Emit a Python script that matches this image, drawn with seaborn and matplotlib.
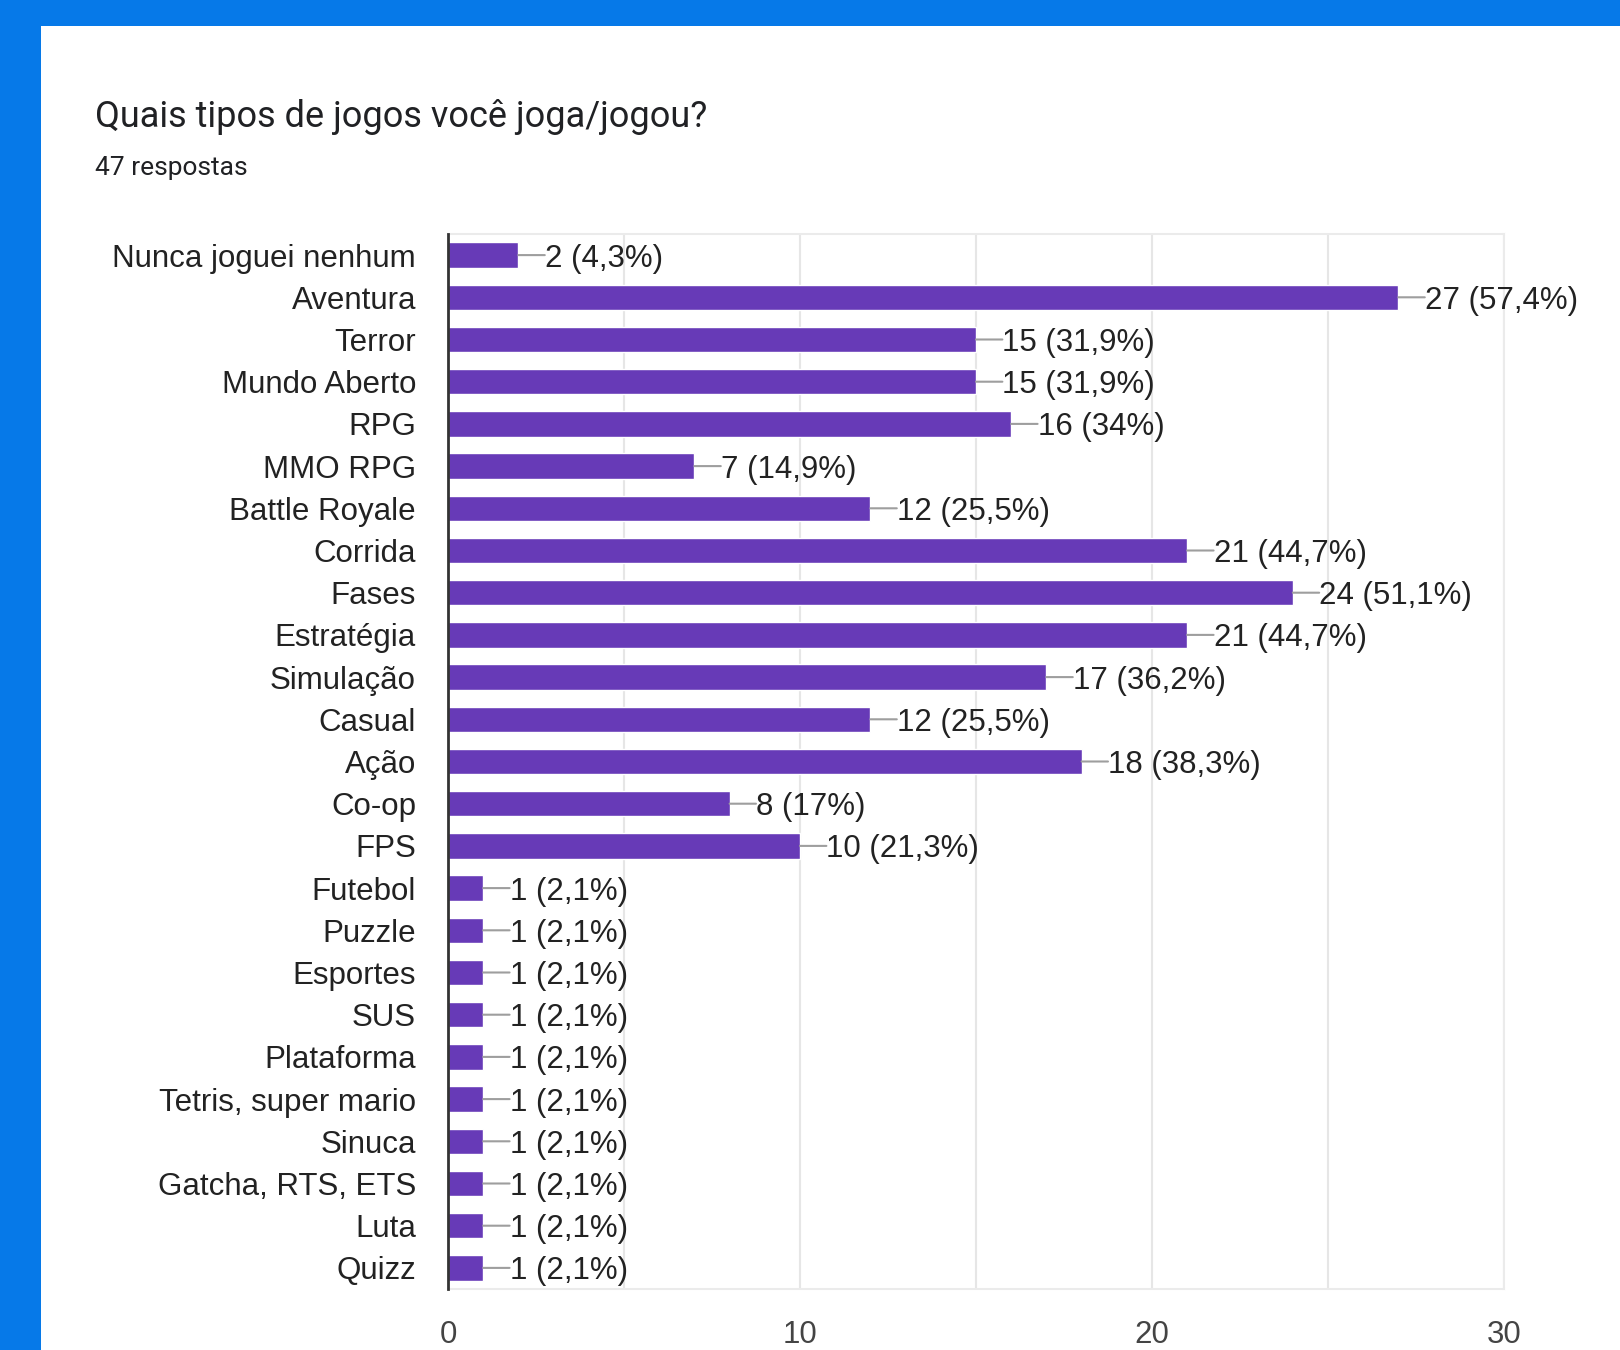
import matplotlib
matplotlib.use("Agg")
import matplotlib.pyplot as plt
import matplotlib.patches as mpatches
import seaborn as sns

# ---- data ----
categories = ["Nunca joguei nenhum", "Aventura", "Terror", "Mundo Aberto", "RPG",
              "MMO RPG", "Battle Royale", "Corrida", "Fases", "Estratégia",
              "Simulação", "Casual", "Ação", "Co-op", "FPS", "Futebol", "Puzzle",
              "Esportes", "SUS", "Plataforma", "Tetris, super mario", "Sinuca",
              "Gatcha, RTS, ETS", "Luta", "Quizz"]
values = [2, 27, 15, 15, 16, 7, 12, 21, 24, 21, 17, 12, 18, 8, 10,
          1, 1, 1, 1, 1, 1, 1, 1, 1, 1]
total_responses = 47
x_ticks = [0, 10, 20, 30]
title = "Quais tipos de jogos você joga/jogou?"
subtitle = f"{total_responses} respostas"

sns.set_theme(style="white")
plt.rcParams["font.family"] = ["Liberation Sans", "DejaVu Sans"]
FS = 22.5

fig = plt.figure(figsize=(16.2, 13.5), dpi=100, facecolor="#0679e8")
# white card
card = mpatches.Rectangle((41 / 1620, 0), 1.0, 1 - 26 / 1350,
                          transform=fig.transFigure, facecolor="white",
                          edgecolor="none", zorder=-10)
fig.patches.append(card)

ax = fig.add_axes([448 / 1620, 1 - 1289 / 1350, (1504 - 448) / 1620, (1289 - 234) / 1350])
ax.set_zorder(5)
ax.set_facecolor("white")

sns.barplot(x=values, y=categories, orient="h", color="#673ab7", width=0.6,
            saturation=1, ax=ax, zorder=3)

ax.set_xlim(0, 30)
ax.set_ylim(len(categories) - 0.5, -0.5)
ax.set_xticks(x_ticks)
ax.set_xticks([5, 15, 25], minor=True)
ax.grid(axis="x", which="both", color="#e6e6e6", linewidth=1.5, zorder=0)
ax.set_axisbelow(True)
ax.set_xlabel("")
ax.set_ylabel("")

for side in ["top", "right", "bottom"]:
    ax.spines[side].set_visible(True)
    ax.spines[side].set_color("#ebebeb")
    ax.spines[side].set_linewidth(1.5)
ax.spines["left"].set_visible(True)
ax.spines["left"].set_color("#333333")
ax.spines["left"].set_linewidth(2)
ax.spines["left"].set_zorder(6)

ax.tick_params(axis="y", length=0, pad=23, labelsize=FS, labelcolor="#222222")
ax.tick_params(axis="x", which="both", length=0, pad=22, labelsize=FS, labelcolor="#444444")

for i, v in enumerate(values):
    pct = round(v / total_responses * 100, 1)
    pct_s = f"{pct:g}".replace(".", ",")
    # connector line
    ax.annotate("", xy=(v, i), xytext=(19, 0), textcoords="offset points",
                arrowprops=dict(arrowstyle="-", color="#9e9e9e", lw=1.5,
                                shrinkA=0, shrinkB=0),
                annotation_clip=False, zorder=4)
    # value label
    ax.annotate(f"{v} ({pct_s}%)", xy=(v, i), xytext=(19, 0), textcoords="offset points",
                ha="left", va="center_baseline", fontsize=FS, color="#222222",
                annotation_clip=False, zorder=4)

fig.text(95 / 1620, 1 - 127 / 1350, title, fontsize=26, color="#202124",
         family=["Roboto", "DejaVu Sans"], ha="left", va="baseline")
fig.text(95 / 1620, 1 - 175 / 1350, subtitle, fontsize=19, color="#202124",
         family=["Roboto", "DejaVu Sans"], ha="left", va="baseline")

fig.savefig("out.png", dpi=100, facecolor=fig.get_facecolor())
